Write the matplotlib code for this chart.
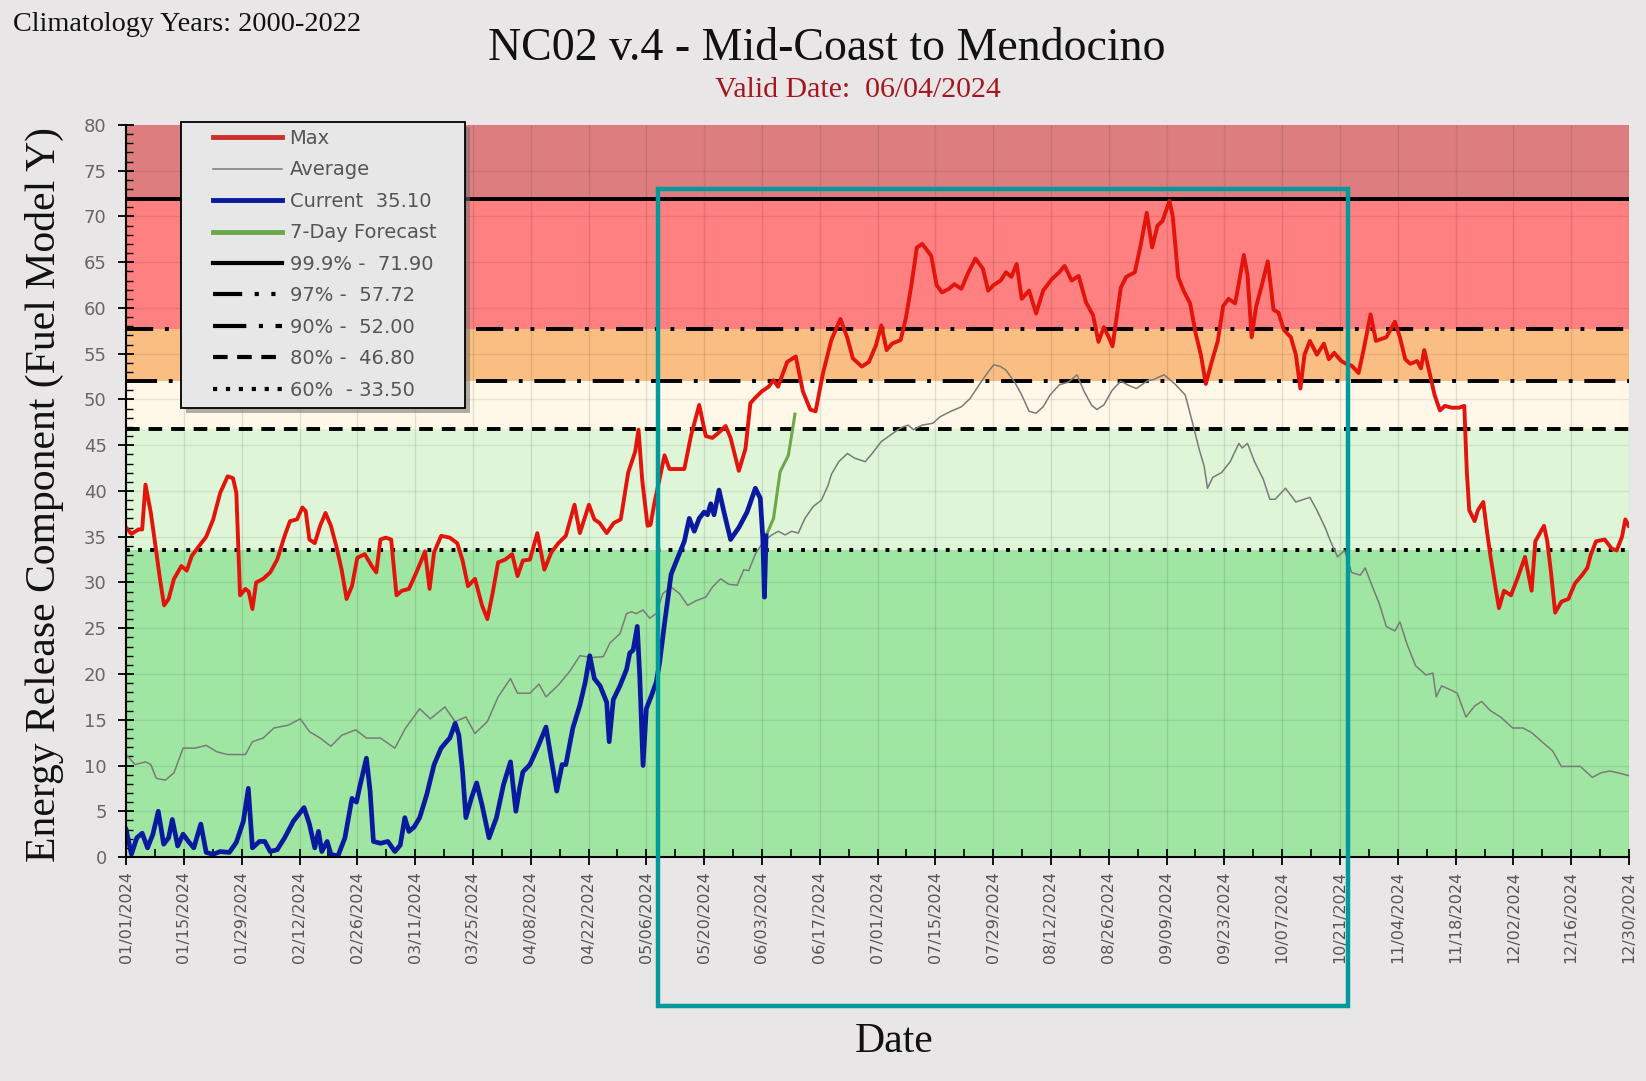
import matplotlib
matplotlib.use('Agg')
import matplotlib.pyplot as plt
from matplotlib.patches import Rectangle
from matplotlib.lines import Line2D
from matplotlib.ticker import MultipleLocator

# ---------------- data (day offset from 01/01/2024, value) ----------------
tick_labels = ['01/01/2024', '01/15/2024', '01/29/2024', '02/12/2024', '02/26/2024',
               '03/11/2024', '03/25/2024', '04/08/2024', '04/22/2024', '05/06/2024',
               '05/20/2024', '06/03/2024', '06/17/2024', '07/01/2024', '07/15/2024',
               '07/29/2024', '08/12/2024', '08/26/2024', '09/09/2024', '09/23/2024',
               '10/07/2024', '10/21/2024', '11/04/2024', '11/18/2024', '12/02/2024',
               '12/16/2024', '12/30/2024']
tick_days = [0, 14, 28, 42, 56, 70, 84, 98, 112, 126, 140, 154, 168, 182, 196, 210,
             224, 238, 252, 266, 280, 294, 308, 322, 336, 350, 364]

max_days = [0, 1.3, 3.0, 3.9, 4.7, 6.0, 6.9, 8.2, 9.2, 10.3, 11.6, 13.4, 14.7, 15.9, 17.7,
            19.4, 21.1, 22.8, 24.6, 25.9, 26.7, 27.6, 28.9, 29.7, 30.6, 31.5, 33.2, 34.9,
            36.6, 38.4, 39.7, 41.4, 42.7, 43.5, 44.4, 45.7, 47.0, 48.3, 49.6, 50.9, 52.2,
            53.4, 54.7, 56.0, 57.8, 59.5, 60.6, 61.6, 62.9, 64.2, 65.5, 66.8, 68.5, 70.3,
            71.6, 72.4, 73.5, 74.6, 76.3, 78.4, 80.2, 81.5, 82.8, 84.5, 86.2, 87.5, 88.8,
            90.1, 91.8, 93.5, 94.8, 96.1, 97.8, 99.6, 101.3, 103.0, 104.7, 106.5, 108.6,
            109.9, 112.1, 113.4, 114.7, 116.4, 118.1, 119.8, 121.6, 123.3, 124.1, 125.0,
            126.3, 127.0, 128.0, 129.2, 130.4, 131.6, 135.2, 136.8, 138.8, 140.4, 142.0,
            143.6, 145.2, 146.4, 148.4, 150.0, 151.2, 152.4, 154.0, 155.6, 156.8, 157.9,
            160.1, 162.2, 163.9, 165.7, 167.0, 168.7, 170.8, 173.0, 174.7, 176.0, 178.2,
            179.9, 181.6, 182.9, 184.2, 185.5, 187.6, 188.9, 190.2, 191.5, 192.8, 195.0,
            196.3, 197.6, 199.3, 200.6, 202.3, 204.0, 205.7, 207.5, 208.8, 210.1, 211.8,
            213.1, 214.4, 215.7, 216.9, 218.7, 220.4, 222.1, 224.3, 226.0, 227.3, 229.0,
            230.7, 232.5, 234.2, 235.5, 236.8, 238.1, 238.9, 240.9, 242.2, 244.3, 245.6,
            247.2, 248.5, 249.8, 251.0, 252.7, 253.5, 254.8, 256.1, 257.7, 259.0, 260.3,
            261.5, 262.8, 264.4, 265.7, 267.0, 268.6, 269.5, 270.7, 271.6, 272.6, 273.7,
            274.9, 276.5, 277.9, 279.1, 280.4, 282.1, 283.3, 284.4, 285.4, 286.7, 288.4,
            290.1, 291.3, 292.6, 294.3, 295.5, 296.8, 298.5, 299.7, 301.4, 302.7, 305.2,
            307.3, 308.5, 309.8, 311.0, 312.7, 313.6, 314.4, 315.7, 316.9, 318.2, 319.4,
            321.1, 322.8, 324.1, 324.7, 325.3, 326.6, 327.4, 328.7, 329.5, 330.4, 331.6,
            332.5, 333.7, 335.4, 337.1, 338.8, 340.4, 341.3, 343.4, 344.2, 345.1, 346.1,
            347.6, 349.3, 350.9, 352.6, 353.9, 354.7, 356.0, 358.1, 359.8, 361.0, 362.3,
            363.1, 363.9]
max_vals = [36.0, 35.3, 35.8, 35.8, 40.7, 37.6, 34.7, 30.4, 27.5, 28.2, 30.4, 31.8, 31.3,
            32.9, 34.0, 35.0, 36.9, 39.8, 41.6, 41.4, 39.8, 28.6, 29.3, 29.0, 27.1, 30.0,
            30.4, 31.1, 32.5, 35.1, 36.7, 36.9, 38.2, 37.8, 34.7, 34.3, 36.2, 37.6, 36.2,
            34.0, 31.4, 28.2, 29.6, 32.7, 33.1, 31.8, 31.1, 34.7, 34.9, 34.7, 28.6, 29.1,
            29.3, 31.1, 32.5, 33.4, 29.3, 33.3, 35.1, 34.9, 34.3, 32.4, 29.6, 30.4, 27.5,
            26.0, 28.9, 32.2, 32.5, 33.1, 30.7, 32.4, 32.5, 35.4, 31.4, 33.3, 34.3, 35.1,
            38.5, 35.4, 38.5, 36.9, 36.5, 35.4, 36.5, 36.9, 42.0, 44.3, 46.7, 41.2, 36.2,
            36.3, 38.8, 41.3, 43.9, 42.4, 42.4, 46.0, 49.4, 46.0, 45.8, 46.4, 47.1, 45.8,
            42.2, 44.6, 49.6, 50.2, 50.9, 51.4, 52.1, 51.4, 54.1, 54.7, 50.9, 48.9, 48.7,
            52.7, 56.5, 58.8, 56.7, 54.5, 53.6, 54.1, 55.9, 58.1, 55.4, 56.1, 56.5, 59.0,
            62.5, 66.6, 67.0, 65.7, 62.5, 61.7, 62.1, 62.6, 62.1, 63.9, 65.4, 64.3, 61.9,
            62.5, 63.0, 63.9, 63.4, 64.8, 61.0, 61.9, 59.4, 61.9, 63.2, 63.9, 64.6, 63.0,
            63.5, 60.6, 59.2, 56.3, 57.9, 56.7, 55.8, 62.2, 63.4, 63.9, 66.6, 70.4, 66.6,
            69.0, 69.5, 71.7, 70.0, 63.4, 61.9, 60.5, 57.3, 54.9, 51.7, 53.9, 56.4, 60.2,
            61.0, 60.5, 62.7, 65.8, 63.6, 56.8, 60.2, 62.2, 65.1, 59.8, 59.5, 57.6, 56.8,
            54.9, 51.2, 54.9, 56.4, 54.9, 56.1, 54.4, 55.1, 54.2, 53.9, 53.7, 52.9, 55.4,
            59.3, 56.4, 56.8, 58.5, 56.8, 54.4, 53.9, 54.2, 53.4, 55.4, 52.9, 50.5, 48.8,
            49.3, 49.1, 49.1, 49.3, 42.2, 37.9, 36.7, 37.9, 38.8, 35.9, 33.0, 29.6, 27.2,
            29.1, 28.6, 30.6, 32.8, 29.1, 34.5, 36.2, 34.5, 31.1, 26.7, 27.9, 28.2, 29.9,
            30.8, 31.6, 33.0, 34.5, 34.7, 33.7, 33.5, 35.0, 36.9, 36.2]

avg_days = [0, 2.2, 4.7, 6.0, 7.3, 9.5, 11.6, 13.8, 16.8, 19.4, 22.0, 24.6, 28.9, 30.6,
            33.2, 35.8, 39.2, 42.2, 44.4, 47.0, 49.6, 52.2, 55.6, 58.2, 61.6, 65.1, 67.7,
            71.1, 73.7, 77.2, 79.7, 82.3, 84.5, 87.5, 90.1, 93.1, 94.8, 97.8, 100.0, 101.7,
            104.7, 107.3, 109.9, 112.9, 115.6, 117.2, 119.6, 121.2, 122.4, 123.6, 125.2,
            126.8, 128.4, 130.0, 132.0, 134.0, 136.0, 138.0, 140.4, 142.0, 144.0, 146.0,
            148.0, 149.6, 150.8, 152.4, 154.4, 156.4, 158.0, 159.6, 161.2, 162.8, 164.4,
            166.4, 168.4, 170.0, 170.8, 172.6, 174.7, 176.4, 179.0, 180.7, 182.9, 185.1,
            187.6, 189.4, 190.7, 192.8, 195.4, 197.1, 199.7, 202.3, 204.4, 206.6, 208.3,
            210.1, 211.8, 213.1, 215.2, 216.9, 218.7, 220.4, 222.1, 223.8, 226.0, 228.2,
            230.3, 232.0, 233.8, 235.1, 236.8, 238.8, 240.9, 243.0, 244.7, 247.2, 248.9,
            251.4, 254.0, 256.5, 258.2, 259.8, 261.1, 261.9, 263.2, 265.3, 267.4, 269.5,
            270.3, 271.6, 273.3, 275.4, 277.0, 278.3, 280.8, 283.3, 286.7, 288.4, 290.5,
            291.7, 293.4, 295.1, 296.8, 298.9, 300.1, 301.8, 303.5, 305.2, 307.3, 308.5,
            310.2, 312.3, 314.8, 316.5, 317.3, 318.6, 321.1, 322.4, 324.5, 326.6, 328.3,
            330.4, 332.9, 335.8, 338.3, 340.4, 342.9, 345.5, 347.6, 349.7, 352.2, 355.1,
            357.2, 359.3, 361.4, 363.9]
avg_vals = [11.2, 10.1, 10.4, 10.1, 8.6, 8.4, 9.2, 11.9, 11.9, 12.2, 11.5, 11.2, 11.2,
            12.6, 13.0, 14.1, 14.4, 15.1, 13.7, 13.0, 12.1, 13.3, 13.9, 13.0, 13.0, 11.9,
            14.1, 16.2, 15.1, 16.4, 14.8, 15.3, 13.5, 14.8, 17.5, 19.5, 17.9, 17.9, 18.9,
            17.5, 18.8, 20.2, 22.0, 21.8, 21.9, 23.4, 24.4, 26.6, 26.8, 26.6, 27.0, 26.1,
            26.6, 28.8, 29.5, 28.8, 27.5, 28.0, 28.4, 29.5, 30.4, 29.8, 29.7, 31.4, 31.3,
            33.1, 34.5, 35.2, 35.6, 35.2, 35.6, 35.4, 37.0, 38.3, 39.0, 40.6, 41.8, 43.2,
            44.1, 43.6, 43.2, 44.1, 45.4, 46.1, 46.9, 47.2, 46.7, 47.2, 47.4, 48.1, 48.7,
            49.2, 50.1, 51.6, 52.7, 53.8, 53.6, 53.2, 51.9, 50.5, 48.7, 48.5, 49.2, 50.5,
            51.6, 51.9, 52.7, 50.9, 49.4, 48.9, 49.4, 51.0, 52.0, 51.5, 51.2, 52.0, 52.2,
            52.7, 51.7, 50.5, 47.6, 44.7, 42.7, 40.3, 41.5, 42.0, 43.2, 45.2, 44.7, 45.2,
            43.2, 41.3, 39.1, 39.1, 40.3, 38.8, 39.3, 37.9, 35.9, 34.5, 32.8, 33.5, 31.1,
            30.8, 31.6, 29.6, 27.7, 25.2, 24.7, 25.7, 23.3, 20.9, 19.9, 20.1, 17.5, 18.7,
            18.2, 17.9, 15.3, 16.5, 17.0, 16.0, 15.3, 14.1, 14.1, 13.6, 12.6, 11.6, 9.9,
            9.9, 9.9, 8.7, 9.2, 9.4, 9.2, 8.9]

cur_days = [0, 1.3, 2.6, 3.9, 5.2, 6.5, 7.8, 9.1, 10.3, 11.2, 12.5, 13.8, 15.1, 16.4,
            18.1, 19.4, 21.1, 22.8, 25.0, 26.7, 28.4, 29.6, 30.6, 32.3, 33.6, 34.9, 36.6,
            38.4, 40.5, 43.1, 44.4, 45.7, 46.6, 47.4, 48.7, 49.6, 51.3, 53.0, 54.7, 55.8,
            56.5, 58.2, 59.1, 59.9, 61.6, 63.4, 65.1, 66.4, 67.5, 68.5, 69.8, 71.1, 72.8,
            74.6, 76.3, 77.6, 78.4, 79.7, 80.6, 81.5, 82.3, 83.6, 84.9, 86.2, 87.9, 89.7,
            91.4, 93.1, 94.4, 95.3, 96.1, 97.8, 99.6, 101.7, 103.2, 104.3, 105.6, 106.5,
            108.2, 109.9, 111.2, 112.3, 113.4, 114.8, 116.4, 117.0, 118.0, 119.6, 121.2,
            122.0, 122.8, 123.8, 124.4, 125.2, 126.0, 127.2, 128.4, 129.2, 130.4, 132.0,
            133.6, 135.2, 136.4, 137.6, 138.8, 140.0, 140.8, 141.6, 142.4, 143.6, 144.8,
            146.4, 148.4, 150.4, 152.4, 153.6, 154.2, 154.6, 155.0]
cur_vals = [3.0, 0.3, 2.1, 2.6, 1.0, 2.5, 5.0, 1.4, 2.1, 4.1, 1.2, 2.5, 1.7, 1.0, 3.6,
            0.5, 0.3, 0.6, 0.5, 1.6, 3.9, 7.5, 1.0, 1.7, 1.7, 0.6, 0.8, 2.1, 3.9, 5.4, 3.6,
            1.0, 2.8, 0.6, 1.7, 0.3, 0.1, 2.1, 6.4, 6.0, 7.5, 10.8, 7.2, 1.7, 1.5, 1.7, 0.6,
            1.3, 4.3, 2.8, 3.3, 4.3, 6.8, 10.1, 11.9, 12.6, 13.0, 14.6, 13.3, 9.3, 4.3, 6.4,
            8.1, 5.7, 2.1, 4.3, 7.9, 10.4, 5.0, 7.5, 9.3, 10.1, 11.9, 14.2, 10.1, 7.2, 10.1,
            10.1, 14.1, 16.6, 19.1, 22.0, 19.5, 18.7, 16.9, 12.6, 17.2, 18.7, 20.5, 22.3,
            22.6, 25.2, 19.8, 10.0, 16.2, 17.6, 19.1, 21.2, 25.5, 30.9, 32.7, 34.5, 37.0,
            35.6, 37.0, 37.7, 37.4, 38.6, 37.4, 40.1, 37.7, 34.7, 36.0, 37.7, 40.3, 39.2,
            34.9, 28.4, 35.1]

fc_days = [155.0, 156.8, 158.4, 160.4, 162.0]
fc_vals = [35.1, 37.0, 42.1, 43.9, 48.4]

thr_values = [71.90, 57.72, 52.00, 46.80, 33.50]
thr_labels = ['99.9% -  71.90', '97% -  57.72', '90% -  52.00', '80% -  46.80', '60%  - 33.50']
thr_styles = ['-', (0, (7, 3, 1, 3, 1, 3)), (0, (8, 3, 1, 3)), (0, (3.5, 2.3)), (0, (1, 2.1))]

band_edges = [0, 33.5, 46.8, 52.0, 57.72, 71.9, 80]
band_colors = ['#A0E6A3', '#DFF5D7', '#FFF8E8', '#FABE82', '#FF8080', '#DE7D80']

# ---------------- figure ----------------
BG = '#E8E6E6'
fig = plt.figure(figsize=(16.46, 10.81), dpi=100, facecolor=BG)
ax = fig.add_axes([0.0766, 0.2072, 0.9131, 0.6772])
ax.set_xlim(0, 364)
ax.set_ylim(0, 80)

for lo, hi, c in zip(band_edges[:-1], band_edges[1:], band_colors):
    ax.axhspan(lo, hi, color=c, zorder=0, lw=0)

for d in tick_days:
    ax.axvline(d, color='black', alpha=0.10, lw=1.0, zorder=1)
for v in range(5, 80, 5):
    ax.axhline(v, color='black', alpha=0.08, lw=1.0, zorder=1)

for v, ls in zip(thr_values, thr_styles):
    ax.axhline(v, color='black', lw=2.8, linestyle=ls, zorder=2)

ax.plot(avg_days, avg_vals, color='#7A7A7A', lw=1.1, zorder=3)
ax.plot(max_days, max_vals, color='#E3140C', lw=2.8, zorder=4)
ax.plot(fc_days, fc_vals, color='#6AA84A', lw=2.2, zorder=4)
ax.plot(cur_days, cur_vals, color='#0A1A9E', lw=3.4, zorder=5)

# axes styling
for s in ['top', 'right']:
    ax.spines[s].set_visible(False)
for s in ['left', 'bottom']:
    ax.spines[s].set_color('black')
    ax.spines[s].set_linewidth(1.5)
    ax.spines[s].set_zorder(6)

ax.set_xticks(tick_days)
ax.set_xticklabels(tick_labels, rotation=90, fontsize=11.5, color='#555555',
                   family='DejaVu Sans')
ax.xaxis.set_minor_locator(MultipleLocator(7))
ax.yaxis.set_major_locator(MultipleLocator(5))
ax.yaxis.set_minor_locator(MultipleLocator(1))
ax.tick_params(axis='x', which='major', direction='inout', length=12, width=1.3, pad=4)
ax.tick_params(axis='x', which='minor', direction='in', length=6, width=1.2)
ax.tick_params(axis='y', which='major', direction='inout', length=12, width=1.3, pad=8,
               labelsize=13, labelcolor='#666666')
ax.tick_params(axis='y', which='minor', direction='in', length=5, width=1.0)

# legend frame (with shadow) drawn as patches, legend itself frameless
fx0, fy0, fw, fh = 0.0364, 0.6138, 0.1891, 0.3899
ax.add_patch(Rectangle((fx0 + 0.0033, fy0 - 0.0068), fw, fh, transform=ax.transAxes,
                       facecolor='#6E6E6E', edgecolor='none', alpha=0.55,
                       clip_on=False, zorder=8))
ax.add_patch(Rectangle((fx0, fy0), fw, fh, transform=ax.transAxes,
                       facecolor='#E7E7E7', edgecolor='black', lw=1.3,
                       clip_on=False, zorder=9))

handles = [Line2D([], [], color='#D0302A', lw=3.5),
           Line2D([], [], color='#7A7A7A', lw=1.1),
           Line2D([], [], color='#0A1A9E', lw=3.5),
           Line2D([], [], color='#6AA84A', lw=3.5)]
labels = ['Max', 'Average', 'Current  35.10', '7-Day Forecast']
for ls in thr_styles:
    handles.append(Line2D([], [], color='black', lw=3.0, linestyle=ls))
labels += thr_labels
leg = ax.legend(handles, labels, loc='upper left', bbox_to_anchor=(0.0577, 0.9945),
                borderaxespad=0, frameon=False, borderpad=0,
                prop={'family': 'DejaVu Sans', 'size': 14}, handlelength=3.55,
                labelspacing=0.64, handletextpad=0.4)
for t in leg.get_texts():
    t.set_color('#555555')
leg.set_zorder(10)

# texts
serif = ['Liberation Serif', 'DejaVu Serif']
fig.text(0.008, 0.977, 'Climatology Years: 2000-2022', ha='left', va='center',
         fontsize=20.3, family=serif, color='#111111')
fig.text(0.502, 0.955, 'NC02 v.4 - Mid-Coast to Mendocino', ha='center', va='center',
         fontsize=33, family=serif, color='#111111')
fig.text(0.521, 0.917, 'Valid Date:  06/04/2024', ha='center', va='center',
         fontsize=21.5, family=serif, color='#A5161E')
fig.text(0.027, 0.543, 'Energy Release Component (Fuel Model Y)', ha='center',
         va='center', rotation=90, fontsize=30, family=serif, color='#111111')
fig.text(0.543, 0.036, 'Date', ha='center', va='center', fontsize=30, family=serif,
         color='#111111')

# highlight rectangle (annotation in the reference)
fig.patches.append(Rectangle((0.3998, 0.0694), 0.4192, 0.7558, transform=fig.transFigure,
                             fill=False, edgecolor='#009A9C', lw=3.2, zorder=20))

fig.savefig('out.png', dpi=100, facecolor=BG)
